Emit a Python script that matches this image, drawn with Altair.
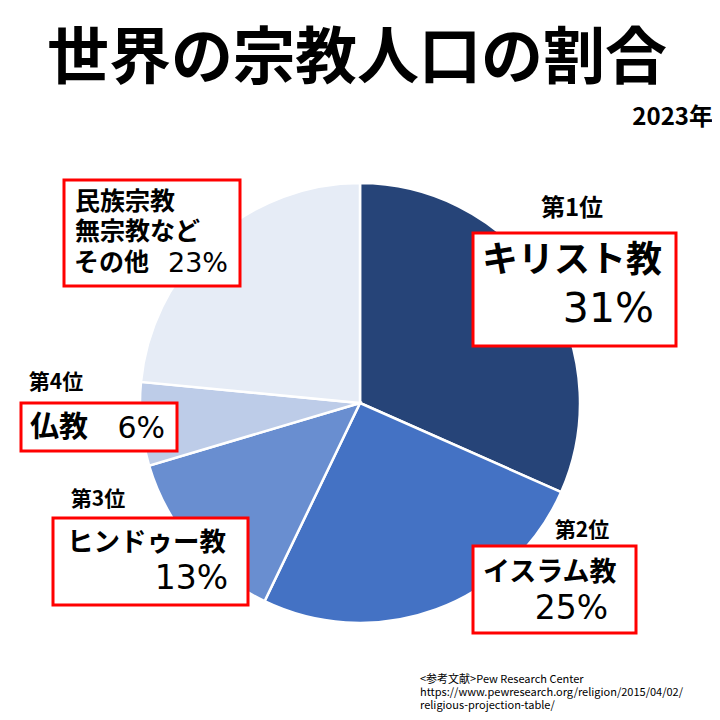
import altair as alt
import pandas as pd

names = ["キリスト教", "イスラム教", "ヒンドゥー教", "仏教", "民族宗教・無宗教など・その他"]
values = [31, 25, 13, 6, 23]
ranks = [1, 2, 3, 4, 5]
colors = ["#264478", "#4472C4", "#698ED0", "#BDCCE8", "#E6ECF6"]

title_text = "世界の宗教人口の割合"
year_text = "2023年"
source_lines = ["<参考文献>Pew Research Center",
                "https://www.pewresearch.org/religion/2015/04/02/",
                "religious-projection-table/"]

FONT = "Noto Sans CJK JP"
NUMFONT = "DejaVu Sans"
OFF = 8  # page margin

df = pd.DataFrame({"name": names, "value": values, "rank": ranks})
one = pd.DataFrame({"k": [0]})

W, H = 704, 704

pie = alt.Chart(df).mark_arc(radius=220, stroke="white", strokeWidth=2.5).encode(
    theta=alt.Theta("value:Q", stack=True),
    color=alt.Color("name:N", scale=alt.Scale(domain=names, range=colors), legend=None),
    order=alt.Order("rank:Q"),
    x=alt.value(360 - OFF),
    y=alt.value(403 - OFF),
)

layers = [pie]


def text(t, x, y, size, align="left", weight="bold", font=FONT):
    layers.append(
        alt.Chart(one).mark_text(text=t, font=font, fontSize=size, fontWeight=weight,
                                 align=align, baseline="middle", color="black").encode(
            x=alt.value(x - OFF), y=alt.value(y - OFF))
    )


def box(x1, y1, x2, y2):
    layers.append(
        alt.Chart(one).mark_rect(fill="white", stroke="#FF0000", strokeWidth=3).encode(
            x=alt.value(x1 - OFF), x2=alt.value(x2 - OFF),
            y=alt.value(y1 - OFF), y2=alt.value(y2 - OFF))
    )


pct = [f"{v}%" for v in values]

text(title_text, 357, 60, 62, align="center")
text(year_text, 713, 118, 24, align="right")

# 1st
text("第1位", 572, 209, 24, align="center")
box(473, 233, 676, 346)
text(names[0], 482, 261, 36)
text(pct[0], 654, 310, 41, align="right", weight="normal", font=NUMFONT)

# 2nd
text("第2位", 582, 531, 21, align="center")
box(473, 546, 636, 633)
text(names[1], 483, 573, 27)
text(pct[1], 608, 609, 33, align="right", weight="normal", font=NUMFONT)

# 3rd
text("第3位", 98, 500, 21, align="center")
box(53, 518, 248, 605)
text(names[2], 67, 543, 26.5)
text(pct[2], 228, 579, 33, align="right", weight="normal", font=NUMFONT)

# 4th
text("第4位", 56, 383, 21, align="center")
box(21, 403, 177, 451)
text(names[3], 30, 428, 29)
text(pct[3], 165, 429, 30, align="right", weight="normal", font=NUMFONT)

# others
box(64, 180, 240, 286)
text("民族宗教", 75, 202, 25)
text("無宗教など", 75, 232, 25)
text("その他", 74, 263, 25)
text(pct[4], 228, 264, 27, align="right", weight="normal", font=NUMFONT)

# source
for i, s in enumerate(source_lines):
    text(s, 420, 680 + i * 13, 11, weight="normal")

chart = alt.layer(*layers).properties(
    width=W, height=H, autosize=alt.AutoSizeParams(type="none"), padding=0
).configure_view(stroke=None)

chart.save("out.html", embed_options={"renderer": "svg", "actions": False})
